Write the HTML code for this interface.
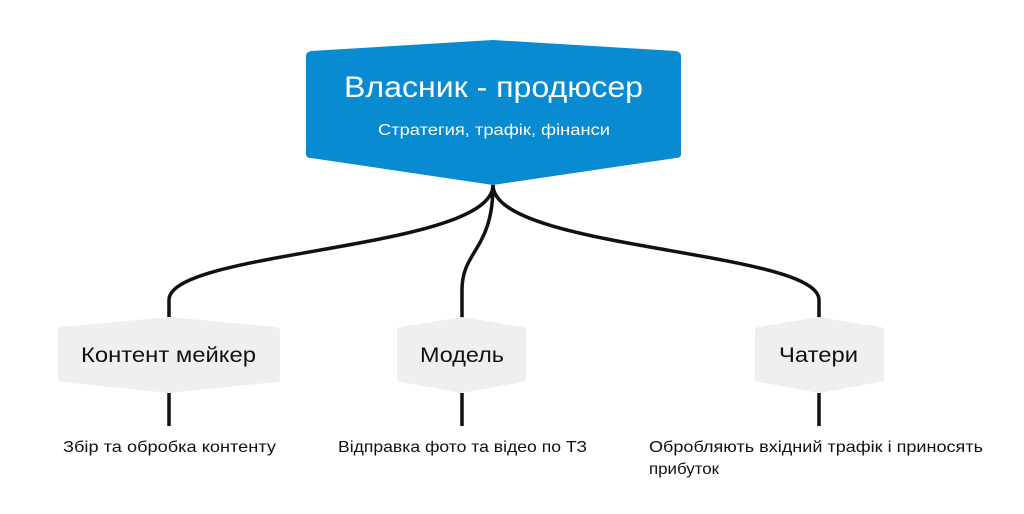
<!DOCTYPE html>
<html><head><meta charset="utf-8"><style>
body{margin:0;background:#fff;width:1024px;height:509px;overflow:hidden}
svg text{font-family:"Liberation Sans",sans-serif}
</style></head><body>
<svg width="1024" height="509" viewBox="0 0 1024 509">
<g fill="none" stroke="#111" stroke-width="3.5">
<path d="M493 185 C493 250 169 250 169 300 L169 318"/>
<path d="M493 185 C493 250 462 250 462 290 L462 320"/>
<path d="M493 185 C493 250 819 250 819 300 L819 318"/>
<path d="M169 393 V426"/>
<path d="M462 393 V426"/>
<path d="M819 393 V426"/>
</g>
<path d="M306 56 Q306 52 311 51 L493 40 L676 51 Q681 52 681 56 L681 154 Q681 158 676 158 L493 185 L311 158 Q306 158 306 154 Z" fill="#088bd0"/>
<text x="344" y="97" font-size="30" fill="#fff" textLength="299" lengthAdjust="spacingAndGlyphs">Власник - продюсер</text>
<text x="378" y="135" font-size="16" fill="#fff" textLength="232" lengthAdjust="spacingAndGlyphs">Стратегия, трафік, фінанси</text>
<path d="M58 331 Q58 327 62 327 L169 317 L276 327 Q280 327 280 331 L280 378 Q280 382 276 382 L169 393 L62 382 Q58 382 58 378 Z" fill="#efefef"/>
<path d="M397 331 Q397 327 401 327 L462 317 L522 327 Q526 327 526 331 L526 378 Q526 382 522 382 L462 393 L401 382 Q397 382 397 378 Z" fill="#efefef"/>
<path d="M755 331 Q755 327 759 327 L819 317 L880 327 Q884 327 884 331 L884 378 Q884 382 880 382 L819 393 L759 382 Q755 382 755 378 Z" fill="#efefef"/>
<g font-size="21" fill="#111">
<text x="81" y="362" textLength="175" lengthAdjust="spacingAndGlyphs">Контент мейкер</text>
<text x="420" y="362" textLength="84" lengthAdjust="spacingAndGlyphs">Модель</text>
<text x="779" y="362" textLength="79" lengthAdjust="spacingAndGlyphs">Чатери</text>
</g>
<g font-size="16" fill="#111">
<text x="63" y="452" textLength="213" lengthAdjust="spacingAndGlyphs">Збір та обробка контенту</text>
<text x="338" y="452" textLength="249" lengthAdjust="spacingAndGlyphs">Відправка фото та відео по ТЗ</text>
<text x="649" y="452" textLength="334" lengthAdjust="spacingAndGlyphs">Обробляють вхідний трафік і приносять</text>
<text x="649" y="474" textLength="70" lengthAdjust="spacingAndGlyphs">прибуток</text>
</g>
</svg>
</body></html>
